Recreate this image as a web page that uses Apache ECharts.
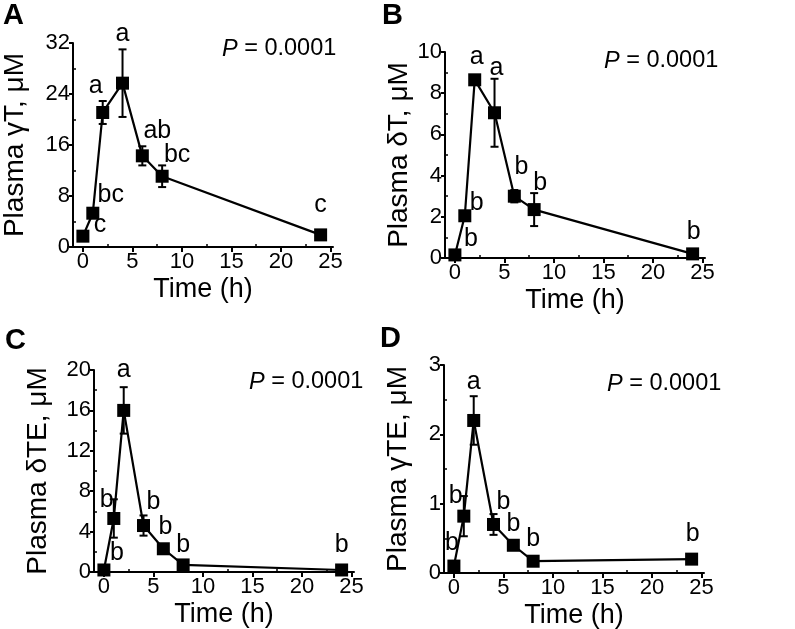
<!DOCTYPE html>
<html>
<head>
<meta charset="utf-8">
<script src="https://cdn.jsdelivr.net/npm/echarts@6/dist/echarts.min.js"></script>
<style>
  html, body { margin: 0; padding: 0; background: #fff; }
  #chart { width: 795px; height: 629px; }
</style>
</head>
<body>
<div id="chart"></div>
<script>
// sampling times (h)
const times = [0, 1, 2, 4, 6, 8, 24]
const xTicks = [0, 5, 10, 15, 20, 25]

// A: plasma gamma-T
const gammaT = [1.7, 5.3, 21.1, 25.7, 14.3, 11.1, 1.9]
const gammaTErr = [0.3, 0.5, 1.8, 5.3, 1.5, 1.7, 0.5]
const gammaTLetters = ['c', 'bc', 'a', 'a', 'ab', 'bc', 'c']
const gammaTTicks = [0, 8, 16, 24, 32]

// B: plasma delta-T
const deltaT = [0.15, 2.05, 8.65, 7.05, 3.0, 2.35, 0.2]
const deltaTErr = [0.05, 0.15, 0.2, 1.65, 0.3, 0.8, 0.1]
const deltaTLetters = ['b', 'b', 'a', 'a', 'b', 'b', 'b']
const deltaTTicks = [0, 2, 4, 6, 8, 10]

// C: plasma delta-TE
const deltaTE = [0.2, 5.3, 16.0, 4.6, 2.3, 0.7, 0.2]
const deltaTEErr = [0.05, 1.9, 2.3, 1.0, 0.3, 0.1, 0.1]
const deltaTELetters = ['b', 'b', 'a', 'b', 'b', 'b', 'b']
const deltaTETicks = [0, 4, 8, 12, 16, 20]

// D: plasma gamma-TE
const gammaTE = [0.1, 0.82, 2.2, 0.7, 0.4, 0.17, 0.2]
const gammaTEErr = [0.03, 0.29, 0.35, 0.15, 0.05, 0.03, 0.03]
const gammaTELetters = ['b', 'b', 'a', 'b', 'b', 'b', 'b']
const gammaTETicks = [0, 1, 2, 3]

const FONT = 'Liberation Sans, Arial, Helvetica, sans-serif'

// panel layout (px) and letter offsets from the point centre
const panels = [
  {
    tag: 'A', title: 'Plasma γT, μM', values: gammaT, err: gammaTErr, letters: gammaTLetters, ticks: gammaTTicks,
    grid: { left: 73, top: 43, width: 260, height: 204 }, nameGap: 44, tagPos: [3, 1], pPos: [222, 50],
    offsets: [[17, -11], [18, -18], [-7, -26], [0, -49], [15, -25], [15, -21], [0, -30]]
  },
  {
    tag: 'B', title: 'Plasma δT, μM', values: deltaT, err: deltaTErr, letters: deltaTLetters, ticks: deltaTTicks,
    grid: { left: 445, top: 52, width: 260, height: 206 }, nameGap: 31, tagPos: [382, 1], pPos: [604, 62],
    offsets: [[16, -16], [12, -13], [2, -23], [2, -45], [7, -29], [6, -26], [1, -22]]
  },
  {
    tag: 'C', title: 'Plasma δTE, μM', values: deltaTE, err: deltaTEErr, letters: deltaTELetters, ticks: deltaTETicks,
    grid: { left: 94, top: 370, width: 260, height: 202 }, nameGap: 42, tagPos: [5, 326], pPos: [249, 383],
    offsets: [[13, -17], [-7, -18], [0, -40], [10, -23], [2, -22], [0, -20], [0, -25]]
  },
  {
    tag: 'D', title: 'Plasma γTE, μM', values: gammaTE, err: gammaTEErr, letters: gammaTELetters, ticks: gammaTETicks,
    grid: { left: 444, top: 365, width: 260, height: 208 }, nameGap: 32, tagPos: [380, 324], pPos: [607, 385],
    offsets: [[-2, -23], [-8, -20], [0, -38], [10, -22], [0, -21], [0, -22], [1, -25]]
  }
]

function midpoints (arr) {
  return arr.slice(0, -1).map((t, i) => (t + arr[i + 1]) / 2)
}

const chart = echarts.init(document.getElementById('chart'))

const option = {
  animation: false,
  backgroundColor: '#fff',
  grid: [],
  xAxis: [],
  yAxis: [],
  series: [],
  graphic: []
}

panels.forEach((p, i) => {
  option.grid.push(Object.assign({ outerBoundsMode: 'none' }, p.grid))

  // main x axis
  option.xAxis.push({
    gridIndex: i,
    type: 'value',
    position: 'bottom',
    min: -1,
    max: 25.25,
    name: 'Time (h)',
    nameLocation: 'middle',
    nameGap: 29,
    nameTextStyle: { color: '#000', fontSize: 27, fontFamily: FONT },
    axisLine: { show: true, onZero: false, lineStyle: { color: '#000', width: 2 } },
    axisTick: { show: true, length: 5, customValues: xTicks, lineStyle: { color: '#000', width: 2 } },
    axisLabel: { show: true, customValues: xTicks, color: '#000', fontSize: 22, fontFamily: FONT, margin: 4 },
    splitLine: { show: false }
  })
  // minor ticks on x
  option.xAxis.push({
    gridIndex: i,
    type: 'value',
    position: 'bottom',
    offset: 0,
    min: -1,
    max: 25.25,
    axisLine: { show: false, onZero: false },
    axisTick: { show: true, inside: true, length: 3, customValues: midpoints(xTicks), lineStyle: { color: '#000', width: 1.5 } },
    axisLabel: { show: false },
    splitLine: { show: false }
  })

  const ticks = p.ticks
  const yMin = ticks[0]
  const yMax = ticks[ticks.length - 1]
  option.yAxis.push({
    gridIndex: i,
    type: 'value',
    position: 'left',
    min: yMin,
    max: yMax,
    interval: ticks[1] - ticks[0],
    name: p.title,
    nameLocation: 'middle',
    nameGap: p.nameGap,
    nameTextStyle: { color: '#000', fontSize: 28, fontFamily: FONT },
    axisLine: { show: true, onZero: false, lineStyle: { color: '#000', width: 2 } },
    axisTick: { show: true, length: 4, lineStyle: { color: '#000', width: 2 } },
    axisLabel: { color: '#000', fontSize: 22, fontFamily: FONT, margin: 3 },
    splitLine: { show: false }
  })
  // minor ticks on y (inside)
  option.yAxis.push({
    gridIndex: i,
    type: 'value',
    position: 'left',
    offset: 0,
    min: yMin,
    max: yMax,
    axisLine: { show: false, onZero: false },
    axisTick: { show: true, inside: true, length: 3, customValues: midpoints(ticks), lineStyle: { color: '#000', width: 1.5 } },
    axisLabel: { show: false },
    splitLine: { show: false }
  })

  const points = times.map((t, k) => [t, p.values[k]])

  // error bars
  option.series.push({
    type: 'custom',
    xAxisIndex: i * 2,
    yAxisIndex: i * 2,
    z: 2,
    silent: true,
    data: times.map((t, k) => [t, p.values[k] - p.err[k], p.values[k] + p.err[k]]),
    renderItem (params, api) {
      const top = api.coord([api.value(0), api.value(2)])
      const bot = api.coord([api.value(0), api.value(1)])
      const w = 4
      const style = { stroke: '#000', lineWidth: 2 }
      return {
        type: 'group',
        children: [
          { type: 'line', shape: { x1: top[0], y1: top[1], x2: bot[0], y2: bot[1] }, style },
          { type: 'line', shape: { x1: top[0] - w, y1: top[1], x2: top[0] + w, y2: top[1] }, style },
          { type: 'line', shape: { x1: bot[0] - w, y1: bot[1], x2: bot[0] + w, y2: bot[1] }, style }
        ]
      }
    }
  })

  // mean line with square markers
  option.series.push({
    type: 'line',
    xAxisIndex: i * 2,
    yAxisIndex: i * 2,
    z: 3,
    data: points,
    symbol: 'rect',
    symbolSize: 13,
    itemStyle: { color: '#000' },
    lineStyle: { color: '#000', width: 2.2 }
  })

  // significance letters
  option.series.push({
    type: 'custom',
    xAxisIndex: i * 2,
    yAxisIndex: i * 2,
    z: 4,
    silent: true,
    data: times.map((t, k) => [t, p.values[k], k]),
    renderItem (params, api) {
      const k = api.value(2)
      const c = api.coord([api.value(0), api.value(1)])
      const off = p.offsets[k]
      return {
        type: 'text',
        x: c[0] + off[0],
        y: c[1] + off[1],
        style: {
          text: p.letters[k],
          fill: '#000',
          font: '25px ' + FONT,
          align: 'center',
          verticalAlign: 'middle'
        }
      }
    }
  })

  // panel tag
  option.graphic.push({
    type: 'text',
    left: p.tagPos[0],
    top: p.tagPos[1],
    style: { text: p.tag, fill: '#000', font: 'bold 29px ' + FONT }
  })
  // P value
  option.graphic.push({
    type: 'text',
    left: p.pPos[0],
    top: p.pPos[1] - 13,
    style: {
      text: '{i|P} = 0.0001',
      fill: '#000',
      font: '23.5px ' + FONT,
      rich: {
        i: { fontStyle: 'italic', fontSize: 23.5, fontFamily: FONT, fill: '#000' }
      }
    }
  })
})

chart.setOption(option)
</script>
</body>
</html>
